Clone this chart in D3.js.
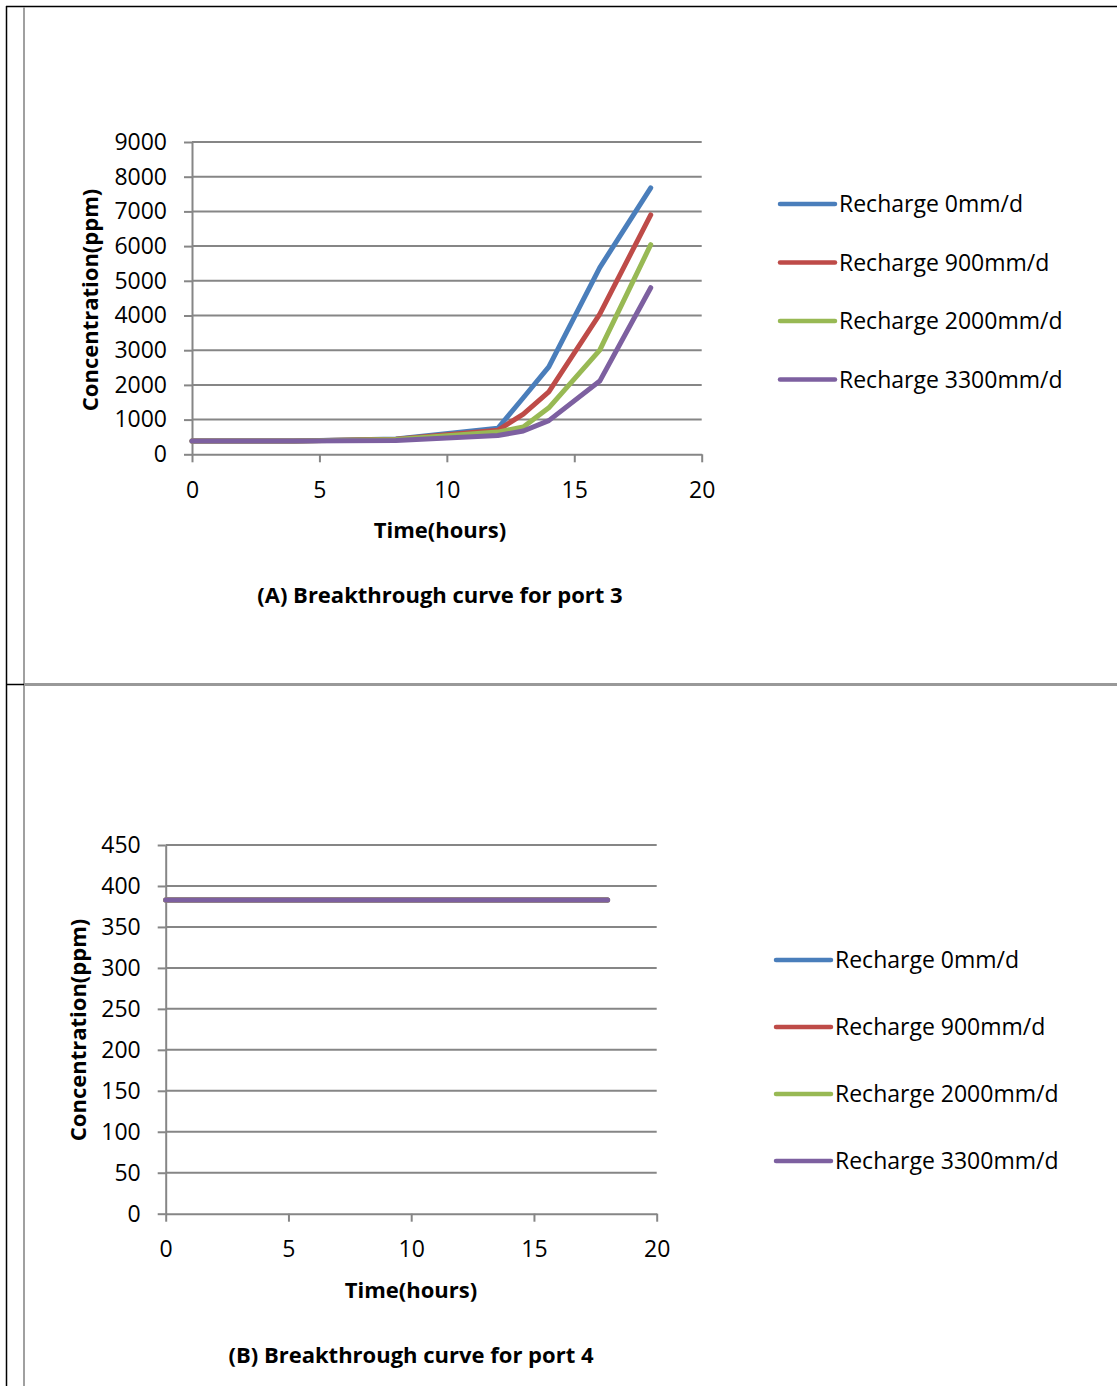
<!DOCTYPE html>
<html>
<head>
<meta charset="utf-8">
<script src="https://cdn.jsdelivr.net/npm/d3@7"></script>
<style>
  body { margin: 0; background: #fff; }
  svg text { font-family: "Open Sans", "Noto Sans", sans-serif; fill: #000; }
  .axis path, .axis line { stroke: #868686; stroke-width: 2; }
  .grid line { stroke: #868686; stroke-width: 2; }
</style>
</head>
<body>
<svg width="1117" height="1386"></svg>
<script>
// ---- data ----
const hours = [0, 4, 8, 12, 13, 14, 16, 18];

const seriesNames = ["Recharge 0mm/d", "Recharge 900mm/d", "Recharge 2000mm/d", "Recharge 3300mm/d"];
const seriesColors = ["#4a7ebb", "#be4b48", "#98b954", "#7d60a0"];

// port 3 concentration (ppm)
const port3_r0    = [383, 385, 440, 750, 1630, 2520, 5380, 7680];
const port3_r900  = [383, 385, 435, 690, 1160, 1800, 4040, 6900];
const port3_r2000 = [383, 384, 425, 640,  790, 1340, 3000, 6040];
const port3_r3300 = [383, 383, 395, 540,  670,  970, 2110, 4800];

// port 4 concentration (ppm)
const port4_r0    = [383, 383, 383, 383, 383, 383, 383, 383];
const port4_r900  = [383, 383, 383, 383, 383, 383, 383, 383];
const port4_r2000 = [383, 383, 383, 383, 383, 383, 383, 383];
const port4_r3300 = [383, 383, 383, 383, 383, 383, 383, 383];

const xTicks = [0, 5, 10, 15, 20];
const port3Ticks = [0, 1000, 2000, 3000, 4000, 5000, 6000, 7000, 8000, 9000];
const port4Ticks = [0, 50, 100, 150, 200, 250, 300, 350, 400, 450];

const svg = d3.select("svg");

// ---- page frame ----
svg.append("line").attr("x1", 6.5).attr("x2", 6.5).attr("y1", 6).attr("y2", 1386)
  .attr("stroke", "#000").attr("stroke-width", 1.5);
svg.append("line").attr("x1", 6).attr("x2", 1117).attr("y1", 6.5).attr("y2", 6.5)
  .attr("stroke", "#000").attr("stroke-width", 1.5);
svg.append("line").attr("x1", 24).attr("x2", 24).attr("y1", 7).attr("y2", 1386)
  .attr("stroke", "#a0a0a0").attr("stroke-width", 2);
svg.append("line").attr("x1", 6).attr("x2", 24).attr("y1", 684.5).attr("y2", 684.5)
  .attr("stroke", "#000").attr("stroke-width", 1.5);
svg.append("line").attr("x1", 24).attr("x2", 1117).attr("y1", 684.5).attr("y2", 684.5)
  .attr("stroke", "#999").attr("stroke-width", 3);

function drawChart(cfg) {
  const x = d3.scaleLinear().domain([0, 20]).range([cfg.left, cfg.right]);
  const y = d3.scaleLinear().domain([0, cfg.yMax]).range([cfg.bottom, cfg.top]);
  const g = svg.append("g");

  // gridlines
  g.append("g").attr("class", "grid")
    .selectAll("line").data(cfg.yTicks.filter(d => d > 0)).enter().append("line")
    .attr("x1", cfg.left).attr("x2", cfg.right)
    .attr("y1", d => y(d)).attr("y2", d => y(d));

  g.append("g").attr("class", "axis")
    .attr("transform", `translate(${cfg.left},0)`)
    .call(d3.axisLeft(y).tickValues(cfg.yTicks).tickFormat(d3.format("d"))
      .tickSize(8).tickPadding(17).tickSizeOuter(0))
    .call(a => a.selectAll("text").style("font-size", "23px"));

  g.append("g").attr("class", "axis")
    .attr("transform", `translate(0,${cfg.bottom})`)
    .call(d3.axisBottom(x).tickValues(xTicks).tickFormat(d3.format("d"))
      .tickSize(8).tickPadding(19).tickSizeOuter(0))
    .call(a => a.selectAll("text").style("font-size", "23px"));

  const line = d3.line().x((d, i) => x(hours[i])).y(d => y(d));
  cfg.series.forEach((s, i) => {
    g.append("path").attr("d", line(s))
      .attr("fill", "none").attr("stroke", seriesColors[i])
      .attr("stroke-width", 5).attr("stroke-linecap", "round").attr("stroke-linejoin", "round");
  });

  g.append("text").attr("x", cfg.xLabelX).attr("y", cfg.bottom + 84)
    .attr("text-anchor", "middle").style("font-size", "22px").style("font-weight", "bold")
    .text("Time(hours)");
  g.append("text").attr("x", cfg.xLabelX).attr("y", cfg.bottom + 149)
    .attr("text-anchor", "middle").style("font-size", "22px").style("font-weight", "bold")
    .text(cfg.title);
  g.append("text")
    .attr("transform", `translate(${cfg.yLabelX},${cfg.yLabelY}) rotate(-90)`)
    .attr("text-anchor", "middle").style("font-size", "22px").style("font-weight", "bold")
    .text("Concentration(ppm)");

  // legend
  const lg = g.append("g").selectAll("g").data(seriesNames).enter().append("g")
    .attr("transform", (d, i) => `translate(${cfg.legX},${cfg.legY + i * cfg.legStep})`);
  lg.append("line").attr("x1", 0).attr("x2", 55).attr("y1", 0).attr("y2", 0)
    .attr("stroke", (d, i) => seriesColors[i]).attr("stroke-width", 4.5).attr("stroke-linecap", "round");
  lg.append("text").attr("x", 59).attr("y", 0).attr("dy", "0.35em")
    .style("font-size", "23px").text(d => d);
}

drawChart({
  left: 192, right: 701.7, top: 142, bottom: 454.3, yMax: 9000,
  yTicks: port3Ticks,
  series: [port3_r0, port3_r900, port3_r2000, port3_r3300],
  title: "(A) Breakthrough curve for port 3",
  xLabelX: 440, yLabelX: 98, yLabelY: 300,
  legX: 780, legY: 204, legStep: 58.5
});

drawChart({
  left: 165.7, right: 656.7, top: 845, bottom: 1213.7, yMax: 450,
  yTicks: port4Ticks,
  series: [port4_r0, port4_r900, port4_r2000, port4_r3300],
  title: "(B) Breakthrough curve for port 4",
  xLabelX: 411, yLabelX: 86, yLabelY: 1030,
  legX: 776, legY: 960, legStep: 67
});
</script>
</body>
</html>
